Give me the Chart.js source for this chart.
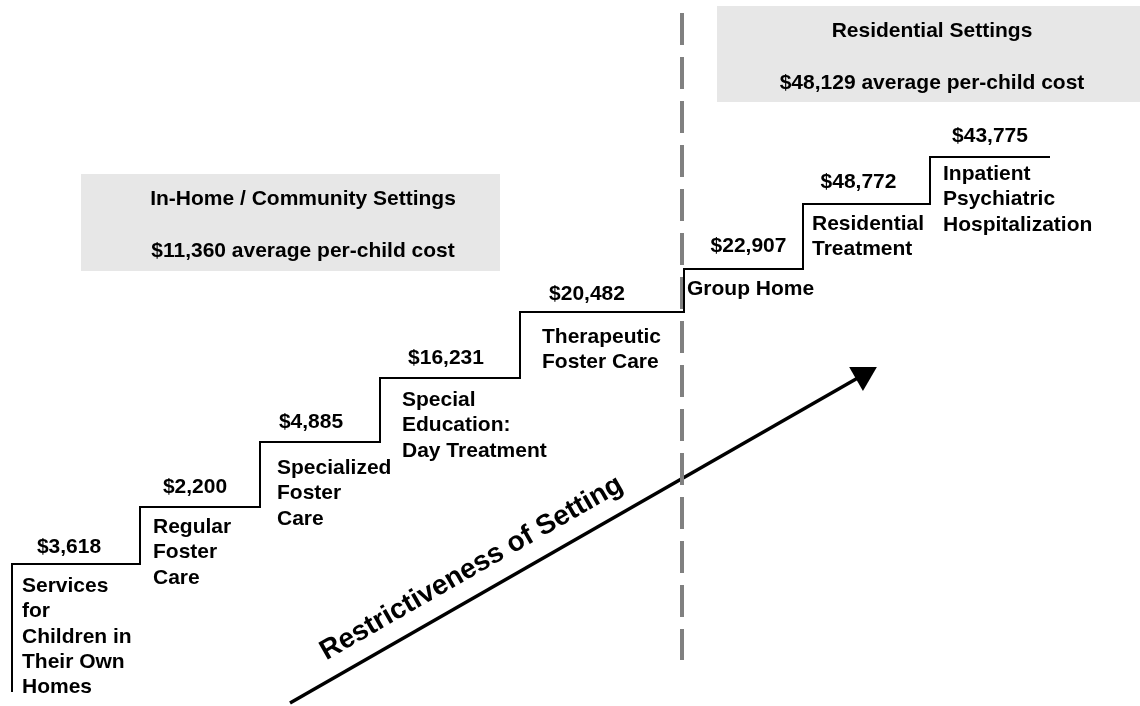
<!DOCTYPE html>
<html>
<head>
<meta charset="utf-8">
<title>Restrictiveness of Setting</title>
<script src="https://cdn.jsdelivr.net/npm/chart.js@4.4.1/dist/chart.umd.min.js"></script>
<style>
    html, body { margin: 0; padding: 0; background: #ffffff; }
    #wrap { width: 1140px; height: 706px; }
</style>
</head>
<body>
<div id="wrap"><canvas id="costChart" width="1140" height="706"></canvas></div>
<script>
// settings, least to most restrictive
const settingNames = [
    ['Services', 'for', 'Children in', 'Their Own', 'Homes'],
    ['Regular', 'Foster', 'Care'],
    ['Specialized', 'Foster', 'Care'],
    ['Special', 'Education:', 'Day Treatment'],
    ['Therapeutic', 'Foster Care'],
    ['Group Home'],
    ['Residential', 'Treatment'],
    ['Inpatient', 'Psychiatric', 'Hospitalization']
];
const settingCosts = [3618, 2200, 4885, 16231, 20482, 22907, 48772, 43775];

// staircase: edges along the restrictiveness axis, and the level of each step
const stepEdges = [1.2, 14.0, 26.0, 38.0, 52.0, 68.4, 80.3, 93.0, 105.0];
const stepLevels = [14.2, 19.9, 26.4, 32.8, 39.4, 43.7, 50.2, 54.9];
const baseLevel = 1.4;

// setting groups
const groupTitles = ['In-Home / Community Settings', 'Residential Settings'];
const groupAvgCosts = [11360, 48129];

// divider between the two groups, and the restrictiveness arrow
const dividerX = 68.2;
const dividerSpan = [69.3, 4.6];
const arrowFrom = { x: 29.0, y: 0.3 };
const arrowTo = { x: 86.3, y: 33.1 };
const arrowTitle = 'Restrictiveness of Setting';

// ---- layout / style ----
const FONT = '"Liberation Sans", Arial, Helvetica, sans-serif';
const LINE_H = 25.3;
const costShift = [-7, -5, -9, -4, -15, 5, -8, 0];
const costRise = [11, 14, 14, 14, 12, 17, 16, 15];
const descInset = [10, 13, 17, 22, 22, 3, 9, 13];
const descDrop = [28, 26, 32, 28, 31, 26, 26, 23];
const groupBoxes = [
    { x0: 8.1, x1: 50.0, y0: 43.5, y1: 53.2, textX: 30.3 },
    { x0: 71.7, x1: 114.0, y0: 60.4, y1: 70.0, textX: 93.2 }
];

function money(v) {
    return '$' + v.toLocaleString('en-US');
}

// 台阶数据
const stepPoints = [{ x: stepEdges[0], y: baseLevel }];
stepLevels.forEach((lv, i) => stepPoints.push({ x: stepEdges[i + 1], y: lv }));

const arrowAngle = Math.atan2(arrowTo.y - arrowFrom.y, arrowTo.x - arrowFrom.x);

// boxes + texts
const annotatePlugin = {
    id: 'annotate',
    beforeDatasetsDraw(chart) {
        const { ctx, scales: { x, y } } = chart;
        ctx.save();
        ctx.font = 'bold 21px ' + FONT;
        ctx.textAlign = 'center';
        ctx.textBaseline = 'alphabetic';
        groupBoxes.forEach((b, i) => {
            const left = x.getPixelForValue(b.x0);
            const right = x.getPixelForValue(b.x1);
            const top = y.getPixelForValue(b.y1);
            const bottom = y.getPixelForValue(b.y0);
            ctx.fillStyle = '#e7e7e7';
            ctx.fillRect(left, top, right - left, bottom - top);
            ctx.fillStyle = '#000000';
            const cx = x.getPixelForValue(b.textX);
            ctx.fillText(groupTitles[i], cx, top + 31);
            ctx.fillText(money(groupAvgCosts[i]) + ' average per-child cost', cx, top + 83);
        });
        ctx.restore();
    },
    afterDatasetsDraw(chart) {
        const { ctx, scales: { x, y } } = chart;
        ctx.save();
        ctx.fillStyle = '#000000';
        ctx.font = 'bold 21px ' + FONT;
        ctx.textBaseline = 'alphabetic';
        settingNames.forEach((lines, i) => {
            const left = x.getPixelForValue(stepEdges[i]);
            const right = x.getPixelForValue(stepEdges[i + 1]);
            const level = y.getPixelForValue(stepLevels[i]);
            ctx.textAlign = 'center';
            ctx.fillText(money(settingCosts[i]), (left + right) / 2 + costShift[i], level - costRise[i]);
            ctx.textAlign = 'left';
            lines.forEach((t, k) => {
                ctx.fillText(t, left + descInset[i], level + descDrop[i] + k * LINE_H);
            });
        });

        // arrow title
        const x1 = x.getPixelForValue(arrowFrom.x), y1 = y.getPixelForValue(arrowFrom.y);
        const x2 = x.getPixelForValue(arrowTo.x), y2 = y.getPixelForValue(arrowTo.y);
        const a = Math.atan2(y2 - y1, x2 - x1);
        const t = 0.34, gap = 19;
        const ax = x1 + t * (x2 - x1) + Math.sin(a) * gap;
        const ay = y1 + t * (y2 - y1) - Math.cos(a) * gap;
        ctx.translate(ax, ay);
        ctx.rotate(a);
        ctx.textAlign = 'center';
        ctx.font = 'bold 28px ' + FONT;
        ctx.fillText(arrowTitle, 0, 0);
        ctx.restore();
    }
};

const chart = new Chart(document.getElementById('costChart').getContext('2d'), {
    type: 'scatter',
    data: {
        datasets: [
            {
                label: 'steps',
                data: stepPoints,
                showLine: true,
                stepped: 'after',
                borderColor: '#000000',
                borderWidth: 2,
                borderJoinStyle: 'miter',
                pointRadius: 0,
                clip: false
            },
            {
                label: 'divider',
                data: [{ x: dividerX, y: dividerSpan[0] }, { x: dividerX, y: dividerSpan[1] }],
                showLine: true,
                borderColor: '#808080',
                borderWidth: 4,
                borderDash: [32, 12],
                borderCapStyle: 'butt',
                pointRadius: 0,
                clip: false
            },
            {
                label: 'arrow',
                data: [arrowFrom, arrowTo],
                showLine: true,
                borderColor: '#000000',
                borderWidth: 3.5,
                pointStyle: 'triangle',
                pointRadius: [0, 16],
                pointRotation: 90 - arrowAngle * 180 / Math.PI,
                pointBackgroundColor: '#000000',
                pointBorderWidth: 0,
                clip: false
            }
        ]
    },
    options: {
        responsive: false,
        maintainAspectRatio: false,
        devicePixelRatio: 1,
        animation: false,
        events: [],
        layout: { padding: 0, autoPadding: false },
        plugins: {
            legend: { display: false },
            tooltip: { enabled: false }
        },
        scales: {
            x: { type: 'linear', display: false, min: 0, max: 114 },
            y: { type: 'linear', display: false, min: 0, max: 70.6 }
        }
    },
    plugins: [annotatePlugin]
});
</script>
</body>
</html>
